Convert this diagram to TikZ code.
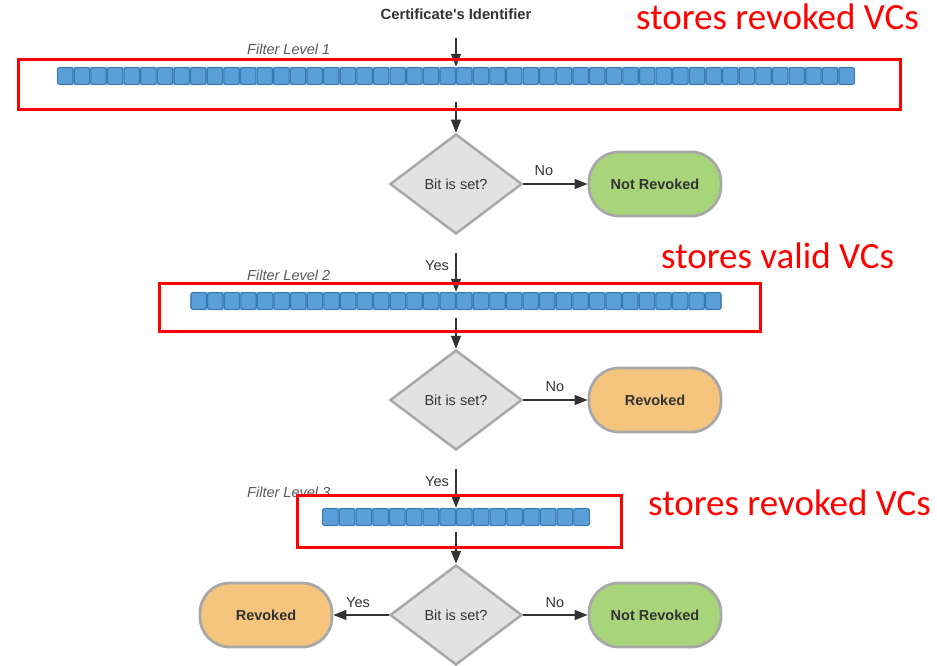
\documentclass[tikz,border=0pt]{standalone}
\usepackage{fontspec}
\setmainfont{Liberation Sans}
\newfontfamily\calib{Carlito}
\usetikzlibrary{shapes.geometric,arrows.meta}
\definecolor{cellblue}{HTML}{5B9FD8}
\definecolor{cellline}{HTML}{3C78B4}
\definecolor{barback}{HTML}{8ABBE5}
\definecolor{txt}{HTML}{333333}
\definecolor{shapeline}{HTML}{A8A8A8}
\definecolor{dfill}{HTML}{E2E2E2}
\definecolor{gfill}{HTML}{A8D47A}
\definecolor{ofill}{HTML}{F5C57D}
\definecolor{boxred}{HTML}{FF0000}
\newcommand\straightapos{\XeTeXglyph\XeTeXcharglyph"0027\relax}
\tikzset{
  base/.style={font=\fontsize{14.5}{17}\selectfont, text=txt},
  decision/.style={base, diamond, draw=shapeline, fill=dfill, line width=2.5pt,
    minimum width=132pt, minimum height=100pt, aspect=1.32, inner sep=0pt},
  term/.style={base, font=\fontsize{14.5}{17}\selectfont\bfseries, rectangle, draw=shapeline,
    line width=2.8pt, rounded corners=30pt, minimum width=132pt, minimum height=64pt},
  barnode/.style={inner sep=0pt, minimum height=18pt},
  cell/.style={fill=cellblue, draw=cellline, line width=1.1pt, rounded corners=2.2pt},
  arr/.style={-{Triangle[length=13pt,width=10pt]}, line width=1.4pt, draw=txt},
  lbl/.style={base},
  flabel/.style={base, font=\fontsize{14.5}{17}\selectfont\itshape, text=black!65, anchor=west, inner sep=0pt},
  redbox/.style={draw=boxred, line width=3pt},
  redtext/.style={font=\calib\fontsize{37}{40}\selectfont, text=boxred, anchor=base west, inner sep=0pt}
}
\begin{document}
\begin{tikzpicture}[x=1pt,y=-1pt]
\useasboundingbox (0,0) rectangle (937,666);

% title
\node[base, font=\fontsize{14.8}{17}\selectfont\bfseries] (title) at (456,14) {Certificate\straightapos s Identifier};

% bars (nodes)
\node[barnode, minimum width=798pt] (b1) at (456,76) {};
\node[barnode, minimum width=531.2pt] (b2) at (456,301) {};
\node[barnode, minimum width=268pt] (b3) at (456,517) {};

\fill[barback, rounded corners=3pt] (b1.north west) rectangle (b1.south east);
\foreach \i in {0,...,47} \draw[cell] ({57+\i*16.625+0.6},67.6) rectangle ++(15.4,16.8);
\fill[barback, rounded corners=3pt] (b2.north west) rectangle (b2.south east);
\foreach \i in {0,...,31} \draw[cell] ({190.4+\i*16.6+0.6},292.6) rectangle ++(15.4,16.8);
\fill[barback, rounded corners=3pt] (b3.north west) rectangle (b3.south east);
\foreach \i in {0,...,15} \draw[cell] ({322+\i*16.75+0.6},508.6) rectangle ++(15.55,16.8);

% filter labels
\node[flabel] (f1) at (247,49) {Filter Level 1};
\node[flabel] (f2) at (247,275) {Filter Level 2};
\node[flabel] (f3) at (247,492) {Filter Level 3};

% decisions
\node[decision] (d1) at (456,184) {Bit is set?};
\node[decision] (d2) at (456,400) {Bit is set?};
\node[decision] (d3) at (456,615) {Bit is set?};

% terminals
\node[term, fill=gfill] (n1) at (655,184) {Not Revoked};
\node[term, fill=ofill] (r2) at (655,400) {Revoked};
\node[term, fill=ofill] (r3) at (266,615) {Revoked};
\node[term, fill=gfill] (n3) at (655,615) {Not Revoked};

% connectors
\draw[arr, shorten <=15pt] (title) -- (b1.north);
\draw[arr, shorten <=17pt] (b1.south) -- (d1.north);
\draw[arr, shorten <=18pt] (d1.south) -- (b2.north);
\draw[arr, shorten <=8pt] (b2.south) -- (d2.north);
\draw[arr, shorten <=18pt] (d2.south) -- (b3.north);
\draw[arr, shorten <=6pt] (b3.south) -- (d3.north);
\draw[arr] (d1.east) -- (n1.west);
\draw[arr] (d2.east) -- (r2.west);
\draw[arr] (d3.east) -- (n3.west);
\draw[arr] (d3.west) -- (r3.east);

% connector labels
\node[lbl] (l1) at (544,171) {No};
\node[lbl] (l2) at (437,266) {Yes};
\node[lbl] (l3) at (555,387) {No};
\node[lbl] (l4) at (437,482) {Yes};
\node[lbl] (l5) at (358,603) {Yes};
\node[lbl] (l6) at (555,603) {No};

% red annotation boxes
\draw[redbox] (18,60) rectangle (900,110);
\draw[redbox] (159,283) rectangle (760,331);
\draw[redbox] (297,495) rectangle (621,547);

\node[redtext] (t1) at (636,30) {stores revoked VCs};
\node[redtext] (t2) at (661,268) {stores valid VCs};
\node[redtext] (t3) at (648,515) {stores revoked VCs};
\end{tikzpicture}
\end{document}
